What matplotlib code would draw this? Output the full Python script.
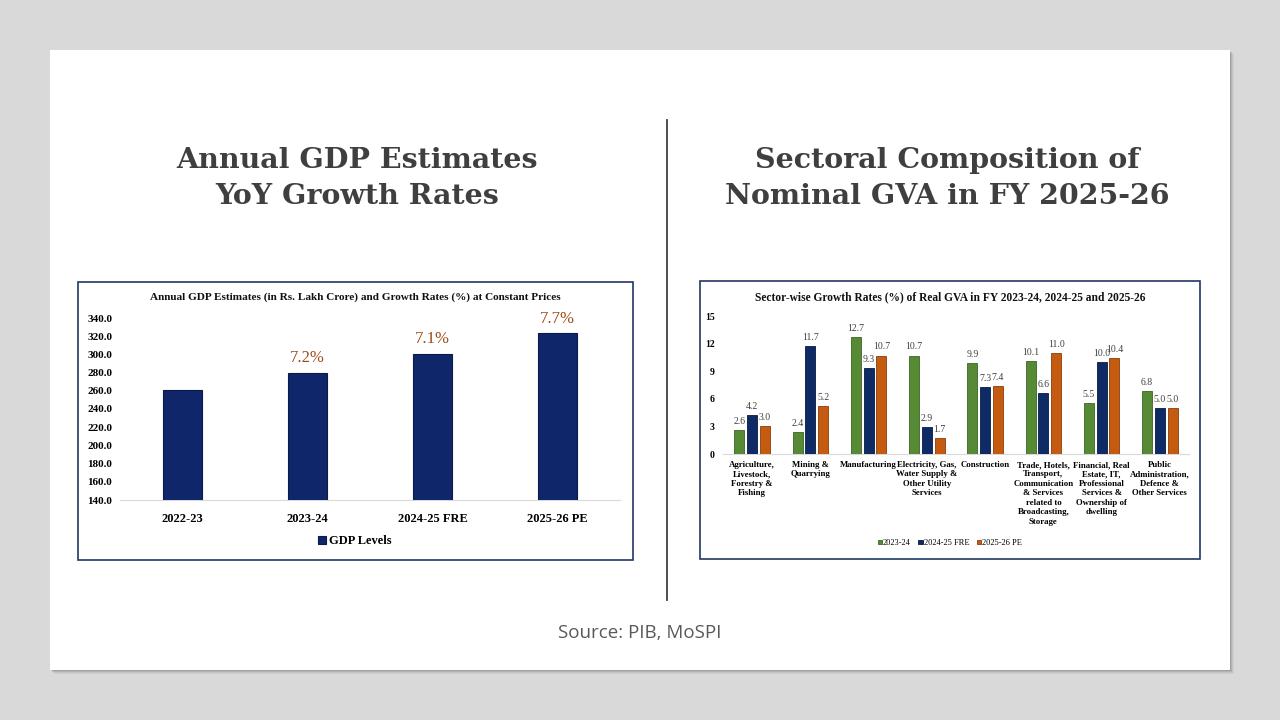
import matplotlib
matplotlib.use("Agg")
import matplotlib.pyplot as plt
from matplotlib.patches import Rectangle
from matplotlib.lines import Line2D
import numpy as np

# ---------------- data ----------------
gdp_years = ["2022-23", "2023-24", "2024-25 FRE", "2025-26 PE"]
gdp_levels = [261.0, 280.0, 300.0, 323.0]
gdp_growth = [None, "7.2%", "7.1%", "7.7%"]
gdp_yticks = [140, 160, 180, 200, 220, 240, 260, 280, 300, 320, 340]

sectors = [
    "Agriculture,\nLivestock,\nForestry &\nFishing",
    "Mining &\nQuarrying",
    "Manufacturing",
    "Electricity, Gas,\nWater Supply &\nOther Utility\nServices",
    "Construction",
    "Trade, Hotels,\nTransport,\nCommunication\n& Services\nrelated to\nBroadcasting,\nStorage",
    "Financial, Real\nEstate, IT,\nProfessional\nServices &\nOwnership of\ndwelling",
    "Public\nAdministration,\nDefence &\nOther Services",
]
series_names = ["2023-24", "2024-25 FRE", "2025-26 PE"]
g_2023_24 = [2.6, 2.4, 12.7, 10.7, 9.9, 10.1, 5.5, 6.8]
g_2024_25 = [4.2, 11.7, 9.3, 2.9, 7.3, 6.6, 10.0, 5.0]
g_2025_26 = [3.0, 5.2, 10.7, 1.7, 7.4, 11.0, 10.4, 5.0]
gva_yticks = [0, 3, 6, 9, 12, 15]

# ---------------- layout helpers ----------------
W, H = 1280, 720
fig = plt.figure(figsize=(W / 100, H / 100), dpi=100, facecolor="#d9d9d9")


def fx(x):
    return x / W


def fy(y):
    return 1 - y / H


def rect_px(x0, y0, x1, y1, **kw):
    r = Rectangle((fx(x0), fy(y1)), (x1 - x0) / W, (y1 - y0) / H,
                  transform=fig.transFigure, **kw)
    fig.add_artist(r)
    return r


def axes_px(x0, y0, x1, y1):
    return fig.add_axes([fx(x0), fy(y1), (x1 - x0) / W, (y1 - y0) / H])


# slide shadow + slide
for i, a in enumerate([0.10, 0.08, 0.06, 0.04]):
    rect_px(50 + 1 + i, 50 + 1 + i, 1230 + 1 + i, 670 + 1 + i,
            facecolor="#000000", edgecolor="none", alpha=a, zorder=0)
rect_px(50, 50, 1230, 670, facecolor="white", edgecolor="none", zorder=1)

# divider
fig.add_artist(Line2D([fx(667), fx(667)], [fy(120), fy(600)],
                      transform=fig.transFigure, color="#404040", lw=1.3, zorder=2))

title_kw = dict(family="DejaVu Serif", weight="bold", color="#3f3f3f",
                ha="center", va="center", fontsize=20.5, zorder=3)
fig.text(fx(357), fy(160), "Annual GDP Estimates", **title_kw)
fig.text(fx(357), fy(197), "YoY Growth Rates", **title_kw)
fig.text(fx(947), fy(160), "Sectoral Composition of", **title_kw)
fig.text(fx(947), fy(197), "Nominal GVA in FY 2025-26", **title_kw)

fig.text(fx(640), fy(633), "Source: PIB, MoSPI", family="Open Sans",
         fontsize=13.5, color="#595959", ha="center", va="center", zorder=3)

# chart boxes
rect_px(78, 282, 633, 560, facecolor="white", edgecolor="#1f3864", lw=1.2, zorder=2)
rect_px(700, 281, 1200, 559, facecolor="white", edgecolor="#1f3864", lw=1.2, zorder=2)

serif = "Liberation Serif"

# ---------------- left chart ----------------
ax1 = axes_px(120, 318, 620, 500)
ax1.set_zorder(3)
ax1.patch.set_alpha(0)
x1 = np.arange(len(gdp_years))
ax1.bar(x1, gdp_levels, width=0.31, color="#10266a", edgecolor="#0a1a4a",
        linewidth=0.8, label="GDP Levels", zorder=3)
ax1.set_xlim(-0.5, len(gdp_years) - 0.5)
ax1.set_ylim(140, 340)
ax1.set_yticks(gdp_yticks)
ax1.set_yticklabels([f"{v:.1f}" for v in gdp_yticks], family=serif,
                    weight="bold", fontsize=8)
ax1.set_xticks(x1)
ax1.set_xticklabels(gdp_years, family=serif, weight="bold", fontsize=9)
ax1.tick_params(axis="both", length=0)
ax1.tick_params(axis="y", pad=5.5)
ax1.tick_params(axis="x", pad=9)
for s in ["top", "right", "left"]:
    ax1.spines[s].set_visible(False)
ax1.spines["bottom"].set_color("#d9d9d9")
for xi, v, g in zip(x1, gdp_levels, gdp_growth):
    if g:
        ax1.annotate(g, (xi, v), xytext=(0, 5), textcoords="offset points",
                     ha="center", va="bottom", family=serif, fontsize=12,
                     color="#9c4a16", annotation_clip=False)
fig.text(fx(355), fy(297),
         "Annual GDP Estimates (in Rs. Lakh Crore) and Growth Rates (%) at Constant Prices",
         family=serif, weight="bold", fontsize=8.1, ha="center", va="center",
         color="#111111", zorder=4)
ax1.legend(loc="center", bbox_to_anchor=(fx(355), fy(541)),
           bbox_transform=fig.transFigure, frameon=False,
           prop=dict(family=serif, size=9, weight="bold"),
           handlelength=0.6, handleheight=0.6, handletextpad=0.3)

# ---------------- right chart ----------------
ax2 = axes_px(723, 316, 1189, 454)
ax2.set_zorder(3)
ax2.patch.set_alpha(0)
x2 = np.arange(len(sectors))
bw, step = 0.17, 0.22
colors = ["#578a34", "#0f2b66", "#c55a11"]
edges = ["#3d6424", "#081a40", "#8a3d0a"]
for k, (vals, name) in enumerate(zip([g_2023_24, g_2024_25, g_2025_26], series_names)):
    bars = ax2.bar(x2 + (k - 1) * step, vals, width=bw, color=colors[k],
                   edgecolor=edges[k], linewidth=0.6, label=name, zorder=3)
    for b, v in zip(bars, vals):
        ax2.annotate(f"{v:.1f}", (b.get_x() + b.get_width() / 2, v),
                     xytext=(0, 3), textcoords="offset points", ha="center",
                     va="bottom", family=serif, fontsize=7, color="#404040",
                     annotation_clip=False)
ax2.set_xlim(-0.5, len(sectors) - 0.5)
ax2.set_ylim(0, 15)
ax2.set_yticks(gva_yticks)
ax2.set_yticklabels([str(v) for v in gva_yticks], family=serif, weight="bold",
                    fontsize=7)
ax2.set_xticks(x2)
ax2.set_xticklabels(sectors, family=serif, weight="bold", fontsize=6.3,
                    linespacing=1.25, va="top")
ax2.tick_params(axis="both", length=0)
ax2.tick_params(axis="y", pad=6)
ax2.tick_params(axis="x", pad=5)
for s in ["top", "right", "left"]:
    ax2.spines[s].set_visible(False)
ax2.spines["bottom"].set_color("#d9d9d9")
fig.text(fx(950), fy(297),
         "Sector-wise Growth Rates (%) of Real GVA in FY 2023-24, 2024-25 and 2025-26",
         family=serif, weight="bold", fontsize=8.3, ha="center", va="center",
         color="#111111", zorder=4)
ax2.legend(loc="center", bbox_to_anchor=(fx(950), fy(543)),
           bbox_transform=fig.transFigure, frameon=False, ncol=3,
           prop=dict(family=serif, size=6),
           handlelength=0.5, handleheight=0.5, handletextpad=0.15,
           columnspacing=0.9)

fig.savefig("out.png", dpi=100, facecolor=fig.get_facecolor())
